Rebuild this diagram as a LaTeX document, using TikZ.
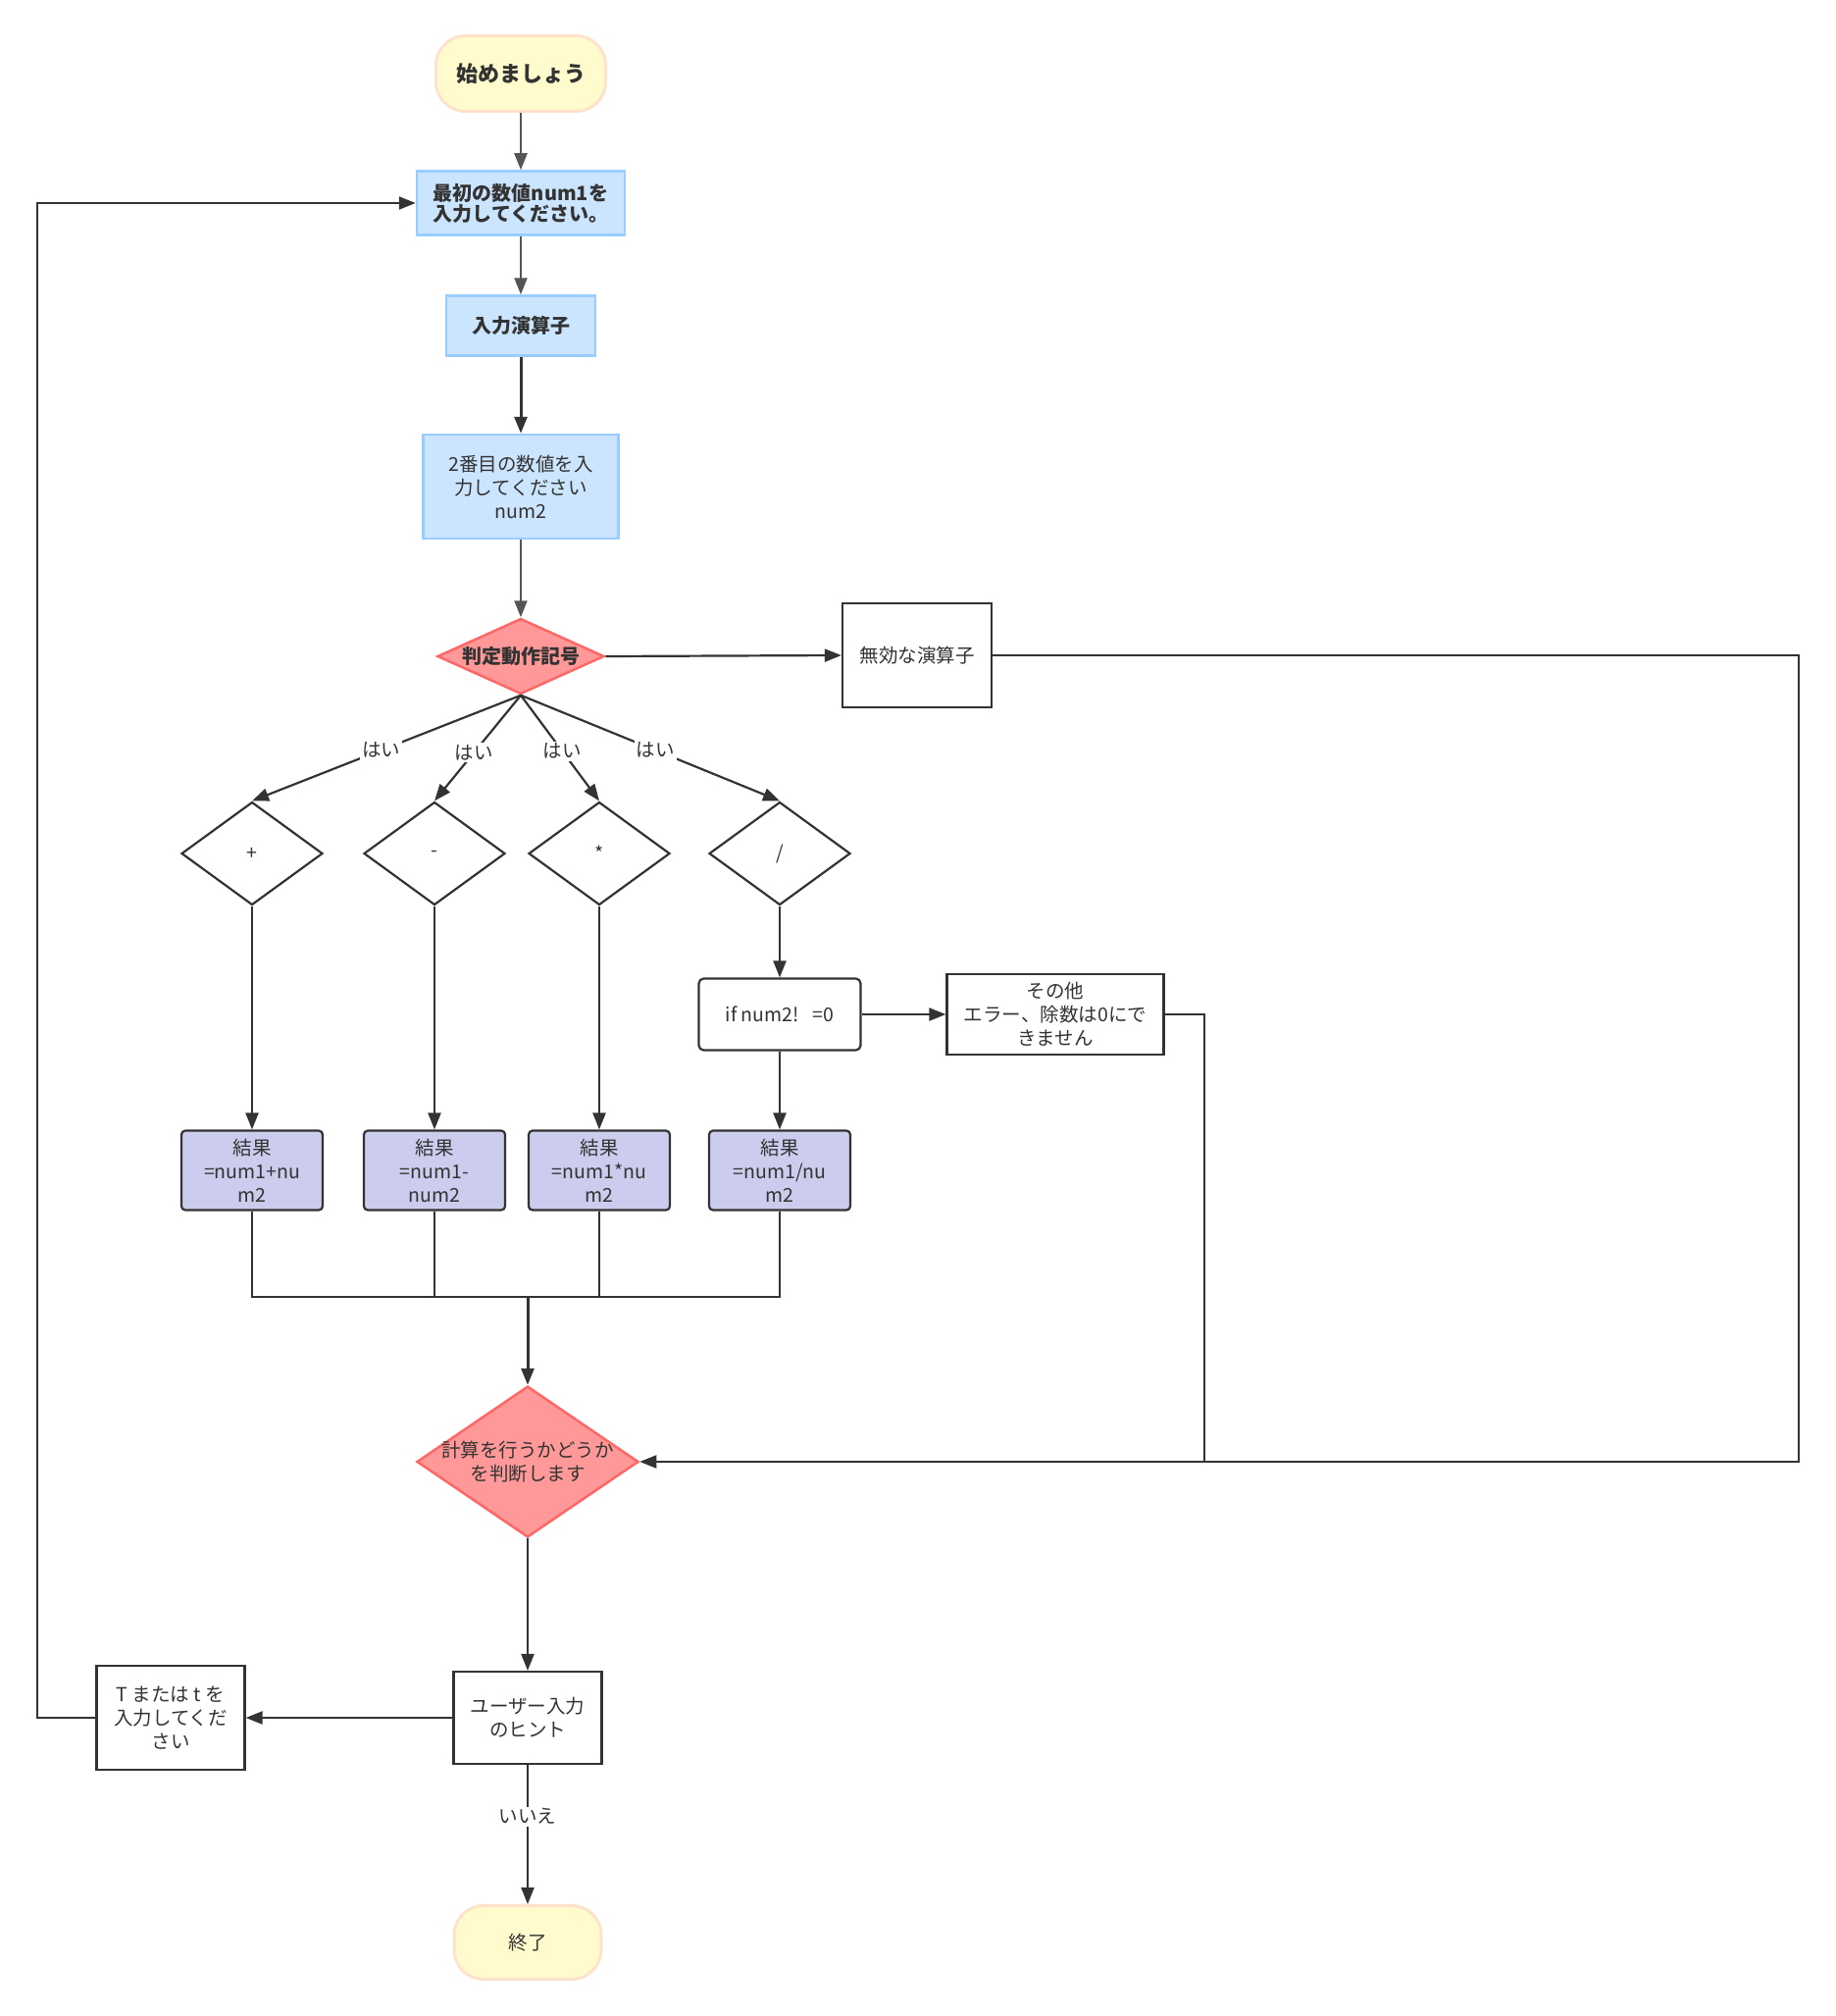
\documentclass[tikz,border=0pt]{standalone}
\usepackage{fontspec}
\setmainfont{Noto Sans CJK JP}
\usetikzlibrary{positioning,arrows.meta,shapes.geometric}
\definecolor{textdark}{HTML}{333333}
\definecolor{linedark}{HTML}{333333}
\definecolor{linegray}{HTML}{555555}
\definecolor{termfill}{HTML}{FFFBCC}
\definecolor{termborder}{HTML}{FFE2CC}
\definecolor{inputfill}{HTML}{CCE5FF}
\definecolor{inputborder}{HTML}{99CCFF}
\definecolor{decfill}{HTML}{FF9999}
\definecolor{decborder}{HTML}{FF6666}
\definecolor{resfill}{HTML}{CCCCEE}
\newcommand{\txt}{\fontsize{19.5}{24}\selectfont}
\tikzset{
    terminal/.style={
        draw=termborder, fill=termfill, line width=3pt, rounded corners=30pt,
        minimum width=173pt, minimum height=77pt,
        font=\txt, align=center
    },
    inputbox/.style={
        draw=inputborder, fill=inputfill, line width=2.5pt,
        inner sep=2pt, font=\txt, align=center
    },
    plainbox/.style={
        draw=linedark, fill=white, line width=2.2pt,
        inner sep=2pt, font=\txt, align=center
    },
    resultbox/.style={
        draw=linedark, fill=resfill, line width=2.2pt, rounded corners=4pt,
        minimum width=144pt, minimum height=81pt,
        inner sep=2pt, font=\txt, align=center
    },
    decision/.style={
        draw=decborder, fill=decfill, diamond, line width=2.5pt,
        inner sep=0pt
    },
    opdiamond/.style={
        draw=linedark, fill=white, diamond, line width=2.2pt,
        inner sep=0pt, minimum width=144pt, minimum height=105pt
    },
    arrow/.style={-{Triangle[length=17pt,width=13pt]}, line width=2.2pt, color=linedark},
    grayarrow/.style={arrow, color=linegray},
    link/.style={line width=2.2pt, color=linedark},
    yeslabel/.style={fill=white, inner sep=2pt, font=\txt, text=textdark},
}
\begin{document}
\begin{tikzpicture}[x=1pt, y=-1pt, every node/.style={text=textdark, align=center}]
    \useasboundingbox (0,0) rectangle (1871,2055);
    % top column
    \node[terminal, font=\fontsize{22}{26}\selectfont\bfseries] (start) at (531,75) {始めましょう};
    \node[inputbox, minimum width=212pt, minimum height=65pt, font=\fontsize{20}{21}\selectfont\bfseries] (num1) at (531,207) {最初の数値num1を\\入力してください。};
    \node[inputbox, minimum width=152pt, minimum height=61pt, font=\fontsize{20}{24}\selectfont\bfseries] (oper) at (531,332) {入力演算子};
    \node[inputbox, minimum width=199pt, minimum height=106pt] (num2) at (531,496) {2番目の数値を入\\力してください\\num2};
    \node[decision, minimum width=170pt, minimum height=77pt,
        label={[font=\fontsize{20}{24}\selectfont\bfseries, text=textdark]center:判定動作記号}] (judge) at (531,669) {};
    \node[plainbox, minimum width=152pt, minimum height=106pt] (invalid) at (935,668) {無効な演算子};
    % operator diamonds
    \node[opdiamond, label={[font=\txt]center:+}] (opadd) at (257,870) {};
    \node[opdiamond, label={[font=\txt]center:-}] (opsub) at (443,870) {};
    \node[opdiamond, label={[font=\txt]center:*}] (opmul) at (611,870) {};
    \node[opdiamond, label={[font=\txt]center:/}] (opdiv) at (795,870) {};
    \node[plainbox, rounded corners=5pt, minimum width=165pt, minimum height=73pt] (ifzero) at (795,1034) {if num2!\hspace{0.7em}=0};
    \node[plainbox, minimum width=221pt, minimum height=82pt] (other) at (1076,1034) {その他\\エラー、除数は0にで\\きません};
    % results
    \node[resultbox] (resadd) at (257,1193) {結果\\=num1+nu\\m2};
    \node[resultbox] (ressub) at (443,1193) {結果\\=num1-\\num2};
    \node[resultbox] (resmul) at (611,1193) {結果\\=num1*nu\\m2};
    \node[resultbox] (resdiv) at (795,1193) {結果\\=num1/nu\\m2};
    % bottom column
    \node[decision, minimum width=226pt, minimum height=154pt,
        label={[font=\txt, text=textdark]center:計算を行うかどうか\\を判断します}] (again) at (538,1490) {};
    \node[plainbox, minimum width=151pt, minimum height=94pt] (hint) at (538,1751) {ユーザー入力\\のヒント};
    \node[plainbox, minimum width=151pt, minimum height=106pt] (retry) at (174,1751) {T または t を\\入力してくだ\\さい};
    \node[terminal, minimum width=150pt, minimum height=75pt] (finish) at (538,1980) {終了};
    % bend points
    \coordinate (rightrail) at (1834,668);
    \coordinate (errrail) at (1228,1034);
    \coordinate (merge) at (538,1322);
    \coordinate (leftrail) at (38,1751);
    % connectors
    \draw[grayarrow] (start) -- (num1);
    \draw[grayarrow] (num1) -- (oper);
    \draw[arrow, line width=3pt] (oper) -- (num2);
    \draw[grayarrow] (num2) -- (judge);
    \draw[arrow] (judge.east) -- (invalid.west);
    \draw[arrow] (judge.south) -- node[yeslabel, pos=0.52] {はい} (opadd.north);
    \draw[arrow] (judge.south) -- node[yeslabel, pos=0.54] {はい} (opsub.north);
    \draw[arrow] (judge.south) -- node[yeslabel, pos=0.53] {はい} (opmul.north);
    \draw[arrow] (judge.south) -- node[yeslabel, pos=0.52] {はい} (opdiv.north);
    \draw[arrow] (opadd) -- (resadd);
    \draw[arrow] (opsub) -- (ressub);
    \draw[arrow] (opmul) -- (resmul);
    \draw[arrow] (opdiv) -- (ifzero);
    \draw[arrow] (ifzero) -- (resdiv);
    \draw[arrow] (ifzero) -- (other);
    \draw[link] (resadd.south) |- (merge);
    \draw[link] (resdiv.south) |- (merge);
    \draw[link] (ressub.south) -- (ressub.south |- merge);
    \draw[link] (resmul.south) -- (resmul.south |- merge);
    \draw[arrow, line width=3pt] (merge) -- (again.north);
    \draw[arrow] (invalid.east) -- (rightrail) |- (again.east);
    \draw[link] (other.east) -- (errrail) -- (errrail |- again.east);
    \draw[arrow] (again) -- (hint);
    \draw[arrow] (hint) -- (retry);
    \draw[arrow] (retry.west) -- (leftrail) |- (num1.west);
    \draw[arrow] (hint) -- node[yeslabel, pos=0.37] {いいえ} (finish);
\end{tikzpicture}
\end{document}
